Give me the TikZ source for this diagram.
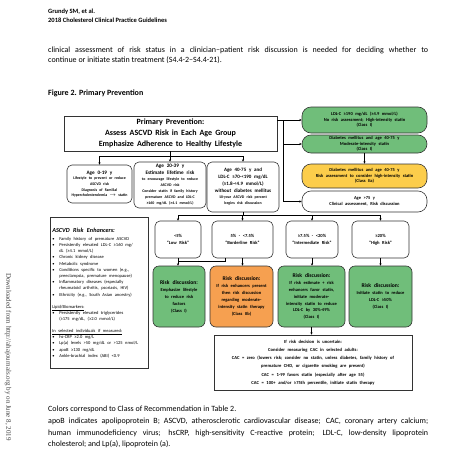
\documentclass[tikz,border=0pt]{standalone}
\usepackage{fontspec}
\setmainfont{Carlito}
\newfontfamily\serifdl{Liberation Serif}
\usetikzlibrary{arrows.meta,positioning}
\definecolor{classI}{RGB}{112,190,122}
\definecolor{classIIa}{RGB}{252,205,75}
\definecolor{classIIb}{RGB}{246,160,80}
\newcommand{\fixsp}{\spaceskip=.55em\xspaceskip=.55em\relax}
\newcommand{\tsz}[2]{\fontsize{#1}{#2}\selectfont\fixsp}
\newcommand{\psz}[2]{\fontsize{#1}{#2}\selectfont}
\newcommand{\bul}{\makebox[7pt][l]{\textbullet}}
\newcommand{\ind}{\hspace*{7pt}}
\begin{document}
\begin{tikzpicture}[x=1pt,y=-1pt,
  arrow/.style={line width=0.5pt,-{Stealth[length=2.4pt,width=2.2pt]}},
  line/.style={line width=0.5pt},
  box/.style={draw=black!80,line width=0.6pt,inner xsep=0pt,inner ysep=1pt,align=center,
    execute at begin node=\fixsp},
  pill/.style={box,rounded corners=9pt,text width=125pt,font=\bfseries\tsz{4.5}{5.6}},
  agebox/.style={box,rounded corners=5pt},
  riskbox/.style={box,rounded corners=5pt,font=\bfseries\tsz{4.6}{7}},
  talk/.style={box,rounded corners=6pt,fill=classI,minimum height=61pt},
  page/.style={inner sep=0pt,anchor=base west}]
\useasboundingbox (0,0) rectangle (474,463);

% page text
\node[page,font=\bfseries\psz{6.5}{8}] (hdr1) at (48,13) {Grundy SM, et al.};
\node[page,font=\bfseries\psz{6.5}{8}] (hdr2) at (48,22.5) {2018 Cholesterol Clinical Practice Guidelines};
\node[page,font=\psz{8}{10}] (body1) at (48,52) {\makebox[380pt][s]{clinical assessment of risk status in a clinician–patient risk discussion is needed for deciding whether to}};
\node[page,font=\psz{8}{10}] (body2) at (48,62.5) {continue or initiate statin treatment (S4.4-2–S4.4-21).};
\node[page,font=\bfseries\psz{8}{10}] (figttl) at (48,95.5) {Figure 2. Primary Prevention};
\node[rotate=-90,font=\serifdl\psz{7}{9},text=black!75,inner sep=0pt] (dl) at (8,357) {Downloaded from http://ahajournals.org by on June 8, 2019};

% main box and right column
\node[box,text width=213pt,minimum height=35pt,font=\bfseries\tsz{8}{11}] (main) at (170.5,133.5)
  {\spaceskip=.38em\xspaceskip=.38em Primary Prevention:\\Assess ASCVD Risk in Each Age Group\\Emphasize Adherence to Healthy Lifestyle};
\node[pill,fill=classI,minimum height=26pt] (ldl) at (364.5,120)
  {LDL-C ≥190 mg/dL (≥4.9 mmol/L)\\No risk assessment; High-intensity statin\\(Class I)};
\node[pill,fill=classI,minimum height=18pt] (dm) at (364.5,144)
  {Diabetes mellitus and age 40-75 y\\Moderate-intensity statin\\(Class I)};
\node[pill,fill=classIIa,minimum height=24pt] (dmrisk) at (364.5,176)
  {Diabetes mellitus and age 40-75 y\\Risk assessment to consider high-intensity statin\\(Class IIa)};
\node[pill,minimum height=21pt] (old) at (364.5,201.5)
  {Age >75 y\\Clinical assessment, Risk discussion};
\coordinate (rt) at (283,120);
\draw[arrow] (main.east |- ldl) -- (ldl.west);
\draw[line] (rt) -- (rt |- old);
\draw[arrow] (rt |- dm) -- (dm.west);
\draw[arrow] (rt |- old) -- (old.west);
\draw[arrow] (dm) -- (dmrisk);

% age groups
\node[agebox,text width=65pt,minimum height=38pt] (age0) at (99.5,184)
  {\centering{\bfseries\tsz{5.2}{6.5}Age 0-19 y\par}{\bfseries\tsz{3.9}{5.6}Lifestyle to prevent or reduce\\ASCVD risk\\Diagnosis of Familial\\Hypercholesterolemia $\rightarrow$ statin\par}};
\node[agebox,text width=72pt,minimum height=46pt] (age20) at (170,185)
  {\centering{\bfseries\tsz{5.2}{7}Age 20-39 y\\Estimate lifetime risk\par}{\bfseries\tsz{3.9}{6}to encourage lifestyle to reduce\\ASCVD risk\\Consider statin if family history\\premature ASCVD and LDL-C\\≥160 mg/dL (≥4.1 mmol/L)\par}};
\node[agebox,text width=72pt,minimum height=50pt] (age40) at (243,187)
  {\centering{\bfseries\tsz{5}{7}Age 40-75 y and\\LDL-C ≥70-<190 mg/dL\\(≥1.8-<4.9 mmol/L)\\without diabetes mellitus\par}{\bfseries\tsz{3.9}{6}10-year ASCVD risk percent\\begins risk discussion\par}};
\coordinate (split) at (170,156);
\draw[line] (main.south) -- (main.south |- split);
\draw[line] (age0.north |- split) -- (age40.north |- split);
\foreach \a in {age0,age20,age40}
  \draw[arrow] (\a.north |- split) -- (\a.north);

% risk enhancers
\node[box,align=left,text width=94pt,inner xsep=2pt,minimum height=151pt,anchor=north west] (enh) at (50,217)
  {\raggedright{\bfseries\itshape\tsz{6.2}{7.5}ASCVD Risk Enhancers:\par}\vspace{2pt}
   {\tsz{4.5}{6.2}\bul Family history of premature ASCVD\\
   \bul Persistently elevated LDL-C ≥160 mg/\\\ind dL (≥4.1 mmol/L)\\
   \bul Chronic kidney disease\\
   \bul Metabolic syndrome\\
   \bul Conditions specific to women (e.g.,\\\ind preeclampsia, premature menopause)\\
   \bul Inflammatory diseases (especially\\\ind rheumatoid arthritis, psoriasis, HIV)\\
   \bul Ethnicity (e.g., South Asian ancestry)\\[5.8pt]
   \underline{Lipid/Biomarkers:}\\
   \bul Persistently elevated triglycerides\\\ind (≥175 mg/dL, (≥2.0 mmol/L)\\[5.8pt]
   \underline{In selected individuals if measured:}\\
   \bul hs-CRP ≥2.0 mg/L\\
   \bul Lp(a) levels >50 mg/dL or >125 nmol/L\\
   \bul apoB ≥130 mg/dL\\
   \bul Ankle-brachial index (ABI) <0.9\par}};

% risk categories
\node[riskbox,text width=46pt,minimum height=37pt] (low) at (178,239.5) {<5\%\\``Low Risk''};
\node[riskbox,text width=61pt,minimum height=37pt] (border) at (242.5,239.5) {5\% - <7.5\%\\``Borderline Risk''};
\node[riskbox,text width=52pt,minimum height=37pt] (inter) at (312,239.5) {≥7.5\% - <20\%\\``Intermediate Risk''};
\node[riskbox,text width=57pt,minimum height=37pt] (high) at (380.5,239.5) {≥20\%\\``High Risk''};
\coordinate (fork) at (243,215);
\draw[line] (age40.south) -- (fork);
\draw[line] (low.north |- fork) -- (high.north |- fork);
\foreach \r in {low,border,inter,high}
  \draw[arrow] (\r.north |- fork) -- (\r.north);

% risk discussions
\node[talk,text width=52pt] (lowtalk) at (179,296.5)
  {\centering{\bfseries\tsz{5.6}{7.5}Risk discussion:\par}{\bfseries\tsz{4.5}{7}Emphasize lifestyle\\to reduce risk\\factors\\(Class I)\par}};
\node[talk,fill=classIIb,text width=63pt] (bordertalk) at (241.5,296.5)
  {\centering{\bfseries\tsz{5.6}{7.5}Risk discussion:\par}{\bfseries\tsz{4.5}{7}If risk enhancers present\\then risk discussion\\regarding moderate-\\intensity statin therapy\\(Class IIb)\par}};
\node[talk,text width=67pt] (intertalk) at (311.5,296.5)
  {\centering{\bfseries\tsz{5.6}{7}Risk discussion:\par}{\bfseries\tsz{4.5}{6.9}If risk estimate + risk\\enhancers favor statin,\\initiate moderate-\\intensity statin to reduce\\LDL-C by 30\%-49\%\\(Class I)\par}};
\node[talk,text width=63pt] (hightalk) at (380.5,296.5)
  {\centering{\bfseries\tsz{5.6}{7.5}Risk discussion:\par}{\bfseries\tsz{4.5}{7}Initiate statin to reduce\\LDL-C ≥50\%\\(Class I)\par}};
\coordinate (join) at (178,261);
\foreach \r/\t in {low/lowtalk,border/bordertalk,inter/intertalk,high/hightalk}
  \draw[arrow] (\r.south) -- (\r.south |- \t.north);
\draw[line] ([xshift=-17.5pt]border.south) |- (join);

% coronary artery calcium
\node[box,text width=198pt,minimum height=55pt,font=\bfseries\tsz{4.6}{8.2}] (cac) at (313,362.5)
  {If risk decision is uncertain:\\Consider measuring CAC in selected adults:\\CAC = zero (lowers risk; consider no statin, unless diabetes, family history of\\premature CHD, or cigarette smoking are present)\\CAC = 1-99 favors statin (especially after age 55)\\CAC = 100+ and/or ≥75th percentile, initiate statin therapy};
\draw[arrow] (intertalk.south) -- (intertalk.south |- cac.north);

% notes
\node[page,font=\psz{8}{10}] (note1) at (48,411) {Colors correspond to Class of Recommendation in Table 2.};
\node[page,font=\psz{8}{10}] (note2) at (48,423) {\makebox[380pt][s]{apoB indicates apolipoprotein B; ASCVD, atherosclerotic cardiovascular disease; CAC, coronary artery calcium;}};
\node[page,font=\psz{8}{10}] (note3) at (48,435) {\makebox[380pt][s]{human immunodeficiency virus; hsCRP, high-sensitivity C-reactive protein; LDL-C, low-density lipoprotein}};
\node[page,font=\psz{8}{10}] (note4) at (48,446.5) {cholesterol; and Lp(a), lipoprotein (a).};
\end{tikzpicture}
\end{document}
